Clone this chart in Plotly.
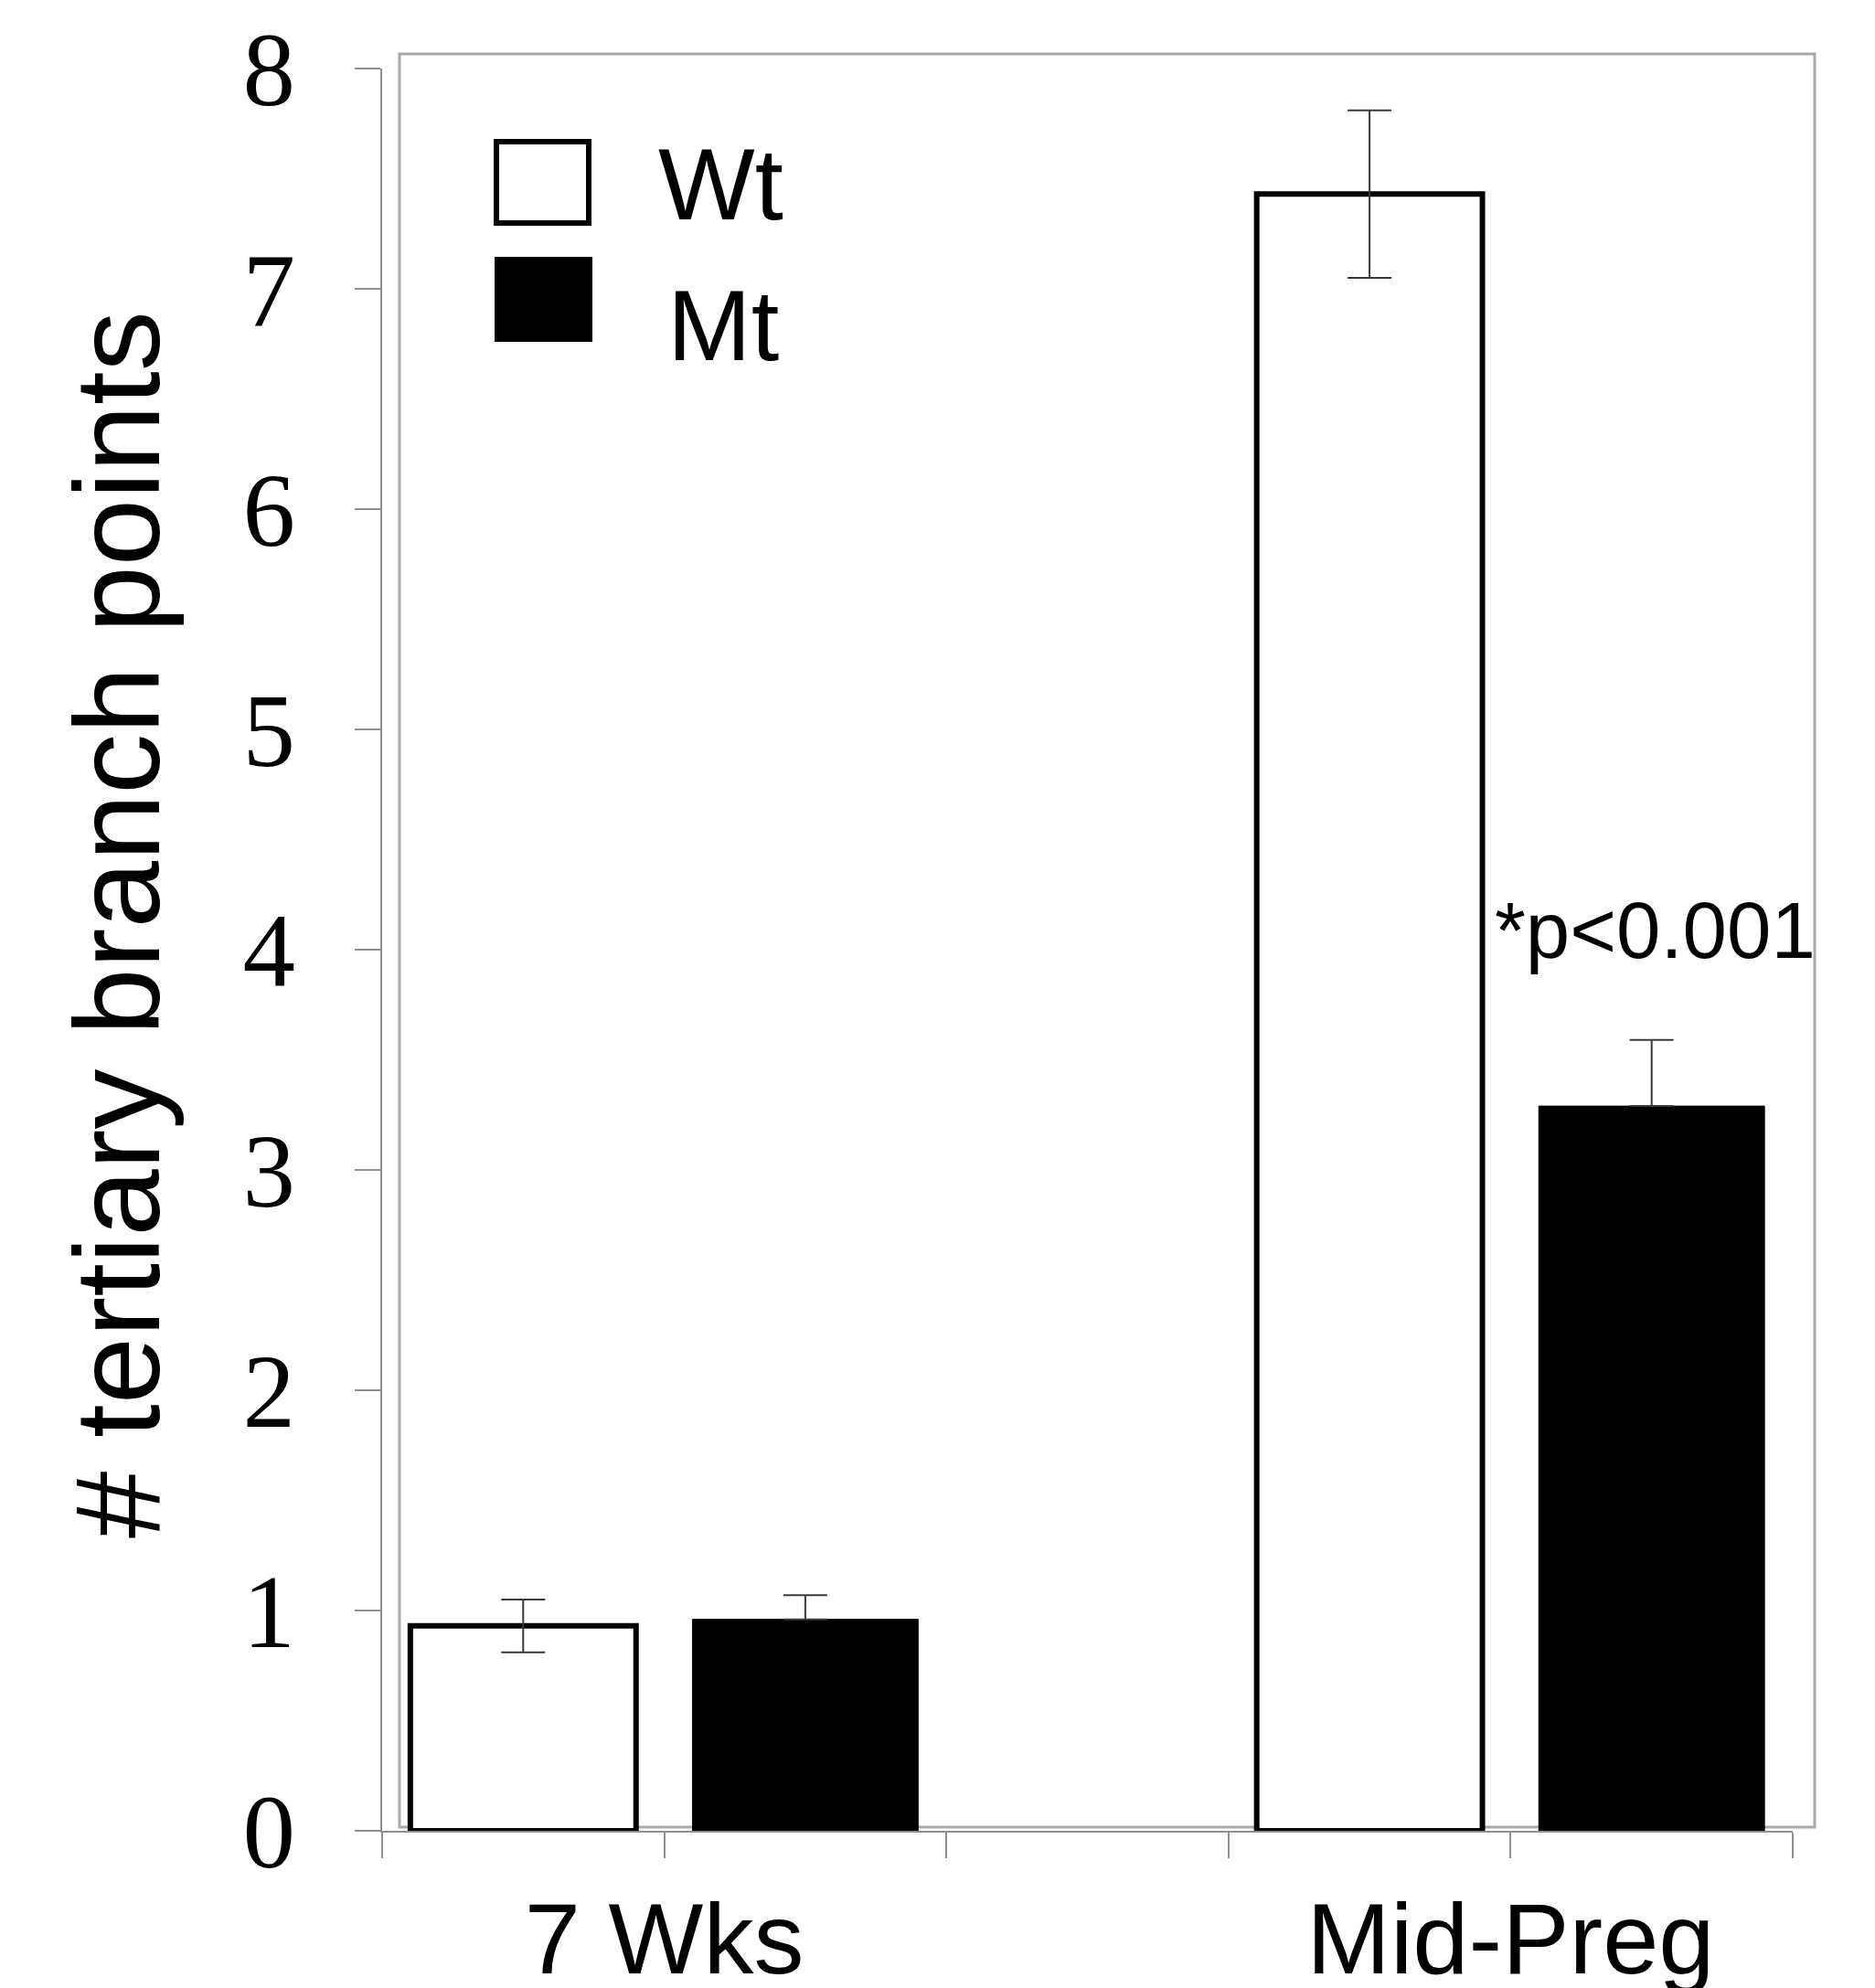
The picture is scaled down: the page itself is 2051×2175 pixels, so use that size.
import plotly.graph_objects as go

# ---- data ----
categories = ["7 Wks", "Mid-Preg"]
series_names = ["Wt", "Mt"]
wt_values = [0.93, 7.43]
wt_errors = [0.12, 0.38]
mt_values = [0.96, 3.29]
mt_errors = [0.11, 0.30]
y_tick_values = [0, 1, 2, 3, 4, 5, 6, 7, 8]
y_title = "# tertiary branch points"
p_label = "*p<0.001"
p_label_y = 4.09

# ---- layout geometry (pixels) ----
W, H = 2051, 2175
PL, PR, PT, PB = 418, 1961, 75, 2003


def px_x(p):
    return (p - PL) / (PR - PL)


def px_y(p):
    return (PB - p) / (PB - PT)


group_step = 3
wt_x = [i * group_step for i in range(len(categories))]
mt_x = [i * group_step + 1 for i in range(len(categories))]
x_min = -0.5
x_max = (len(categories) - 1) * group_step + 1.5
tickvals = [x_min + k for k in range(int(x_max - x_min) + 1)]
ticktext = []
for t in tickvals:
    lab = ""
    for i, c in enumerate(categories):
        if abs(t - (i * group_step + 0.5)) < 1e-9:
            lab = c
    ticktext.append(lab)

err_style = dict(type="data", visible=True, color="#3a3a3a", thickness=2, width=24)

fig = go.Figure()
fig.add_trace(go.Bar(
    x=wt_x, y=wt_values, name=series_names[0], width=0.8,
    marker=dict(color="white", line=dict(color="black", width=6)),
    error_y=dict(array=wt_errors, **err_style),
))
fig.add_trace(go.Bar(
    x=mt_x, y=mt_values, name=series_names[1], width=0.8,
    marker=dict(color="black", line=dict(color="black", width=1)),
    error_y=dict(array=mt_errors, arrayminus=[0] * len(mt_errors), **err_style),
))

axis_gray = "#8f8f8f"
fig.update_layout(
    width=W, height=H,
    margin=dict(l=PL, r=W - PR, t=PT, b=H - PB, pad=0, autoexpand=False),
    plot_bgcolor="white", paper_bgcolor="white",
    showlegend=False,
    barmode="overlay",
    xaxis=dict(
        range=[x_min, x_max], tickmode="array", tickvals=tickvals, ticktext=ticktext,
        showgrid=False, zeroline=False, showline=True, linecolor=axis_gray, linewidth=2,
        ticks="outside", ticklen=28, tickcolor=axis_gray, tickwidth=2,
        tickfont=dict(family="Liberation Sans, Arial", size=110, color="black"),
        ticklabelstandoff=-6, automargin=False,
    ),
    yaxis=dict(
        range=[0, 8], tickmode="array", tickvals=y_tick_values,
        showgrid=False, zeroline=False, showline=True, linecolor=axis_gray, linewidth=2,
        ticks="outside", ticklen=28, tickcolor=axis_gray, tickwidth=2,
        tickfont=dict(family="Liberation Serif, Times New Roman", size=115, color="black"),
        ticklabelstandoff=42, automargin=False,
    ),
)

shapes = [
    # plot-area frame
    dict(type="rect", xref="paper", yref="paper",
         x0=px_x(437), x1=px_x(1985), y0=px_y(1999), y1=px_y(59),
         line=dict(color="#a8a8a8", width=3), fillcolor="rgba(0,0,0,0)", layer="below"),
    # legend swatches
    dict(type="rect", xref="paper", yref="paper",
         x0=px_x(543), x1=px_x(644), y0=px_y(244), y1=px_y(155),
         line=dict(color="black", width=6), fillcolor="white"),
    dict(type="rect", xref="paper", yref="paper",
         x0=px_x(541), x1=px_x(648), y0=px_y(374), y1=px_y(281),
         line=dict(color="black", width=0), fillcolor="black"),
]
fig.update_layout(shapes=shapes)

annotations = [
    dict(text=y_title, xref="paper", yref="paper", x=px_x(128), y=px_y(1012),
         textangle=-90, showarrow=False, xanchor="center", yanchor="middle",
         font=dict(family="Liberation Sans, Arial", size=132, color="black")),
    dict(text=series_names[0], xref="paper", yref="paper", x=px_x(718), y=px_y(202),
         showarrow=False, xanchor="left", yanchor="middle",
         font=dict(family="Liberation Sans, Arial", size=112, color="black")),
    dict(text=series_names[1], xref="paper", yref="paper", x=px_x(728), y=px_y(355),
         showarrow=False, xanchor="left", yanchor="middle",
         font=dict(family="Liberation Sans, Arial", size=110, color="black")),
    dict(text=p_label, xref="paper", yref="y", x=px_x(1633), y=p_label_y,
         showarrow=False, xanchor="left", yanchor="middle",
         font=dict(family="Liberation Sans, Arial", size=87, color="black")),
]
fig.update_layout(annotations=annotations)

fig.write_html("out.html", config={"displayModeBar": False},
               post_script="document.body.style.margin='0px';")
